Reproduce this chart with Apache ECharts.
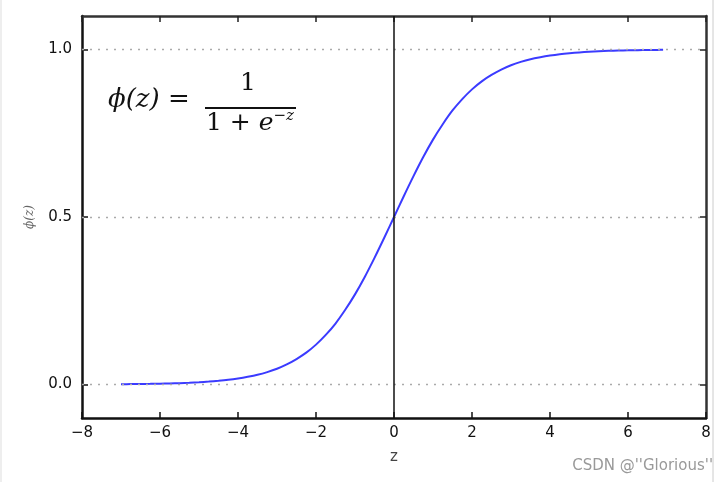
<!DOCTYPE html>
<html>
<head>
<meta charset="utf-8">
<script src="https://cdn.jsdelivr.net/npm/echarts@6/dist/echarts.min.js"></script>
<style>
  html, body { margin: 0; padding: 0; background: #fff; }
  #chart { width: 728px; height: 482px; }
</style>
</head>
<body>
<div id="chart"></div>
<script>
// z values along the curve and the phi(z) values
const zValues = [-7, -6.75, -6.5, -6.25, -6, -5.75, -5.5, -5.25, -5, -4.75, -4.5, -4.25, -4, -3.75,
  -3.5, -3.25, -3, -2.75, -2.5, -2.25, -2, -1.75, -1.5, -1.25, -1, -0.75, -0.5, -0.25,
  0, 0.25, 0.5, 0.75, 1, 1.25, 1.5, 1.75, 2, 2.25, 2.5, 2.75, 3, 3.25, 3.5, 3.75,
  4, 4.25, 4.5, 4.75, 5, 5.25, 5.5, 5.75, 6, 6.25, 6.5, 6.75, 6.9];
const phiValues = [0.0009, 0.0012, 0.0015, 0.0019, 0.0025, 0.0032, 0.0041, 0.0052, 0.0067, 0.0086, 0.011, 0.014, 0.018, 0.023,
  0.029, 0.037, 0.047, 0.060, 0.076, 0.095, 0.119, 0.148, 0.182, 0.223, 0.269, 0.321, 0.378, 0.438,
  0.5, 0.562, 0.622, 0.679, 0.731, 0.777, 0.818, 0.852, 0.881, 0.905, 0.924, 0.940, 0.953, 0.963, 0.971, 0.977,
  0.982, 0.986, 0.989, 0.9914, 0.9933, 0.9948, 0.9959, 0.9968, 0.9975, 0.9981, 0.9985, 0.9988, 0.999];
const xTicks = [-8, -6, -4, -2, 0, 2, 4, 6, 8];
const yTicks = [0, 0.5, 1.0];

const chart = echarts.init(document.getElementById('chart'));

const fmtX = v => (v < 0 ? '\u2212' + Math.abs(v) : String(v));
const tickFont = { fontFamily: 'DejaVu Sans', fontSize: 15, color: '#111' };
const serif = 'DejaVu Serif';

const option = {
  animation: false,
  grid: { left: 82, right: 22, top: 16, bottom: 64 },
  xAxis: [
    {
      type: 'value', min: -8, max: 8, interval: 2,
      name: 'z', nameLocation: 'middle', nameGap: 32,
      nameTextStyle: { fontFamily: 'DejaVu Sans', fontSize: 15, color: '#444' },
      axisLine: { show: true, onZero: false, lineStyle: { color: '#111', width: 2.5 } },
      axisTick: { show: true, inside: true, length: 6, lineStyle: { color: '#111', width: 1.5 } },
      axisLabel: Object.assign({ formatter: fmtX, margin: 8 }, tickFont),
      splitLine: { show: false }
    },
    {
      type: 'value', min: -8, max: 8, interval: 2, position: 'top',
      axisLine: { show: true, onZero: false, lineStyle: { color: '#333', width: 2.5 } },
      axisTick: { show: true, inside: true, length: 6, lineStyle: { color: '#222', width: 1.5 } },
      axisLabel: { show: false },
      splitLine: { show: false }
    }
  ],
  yAxis: [
    {
      type: 'value', min: -0.1, max: 1.1,
      name: '\u03d5(z)', nameLocation: 'middle', nameGap: 46,
      nameTextStyle: { fontFamily: serif, fontStyle: 'italic', fontSize: 12, color: '#666' },
      axisLine: { show: true, onZero: false, lineStyle: { color: '#111', width: 2.5 } },
      axisTick: { show: true, inside: true, length: 6, customValues: yTicks, lineStyle: { color: '#111', width: 1.5 } },
      axisLabel: Object.assign({ customValues: yTicks, formatter: v => v.toFixed(1), margin: 10 }, tickFont),
      splitLine: { show: false }
    },
    {
      type: 'value', min: -0.1, max: 1.1, position: 'right',
      axisLine: { show: true, onZero: false, lineStyle: { color: '#333', width: 2.5 } },
      axisTick: { show: true, inside: true, length: 6, customValues: yTicks, lineStyle: { color: '#222', width: 1.5 } },
      axisLabel: { show: false },
      splitLine: { show: false }
    }
  ],
  series: [
    {
      type: 'line',
      data: zValues.map((z, i) => [z, phiValues[i]]),
      smooth: 0.3,
      showSymbol: false,
      lineStyle: { color: '#3b3bff', width: 2 },
      z: 3,
      markLine: {
        silent: true,
        symbol: 'none',
        label: { show: false },
        data: [
          ...yTicks.map(v => ({ yAxis: v, lineStyle: { color: '#aaa', type: [2, 6], width: 1.3 } })),
          { xAxis: 0, lineStyle: { color: '#111', type: 'solid', width: 1.5 } }
        ]
      }
    }
  ],
  graphic: [
    { type: 'line', shape: { x1: 1, y1: 0, x2: 1, y2: 482 }, style: { stroke: '#ddd', lineWidth: 1 } },
    { type: 'line', shape: { x1: 713, y1: 0, x2: 713, y2: 482 }, style: { stroke: '#ccc', lineWidth: 1 } },
    {
      type: 'text', left: 108, top: 87,
      style: { text: '\u03d5(z) =', fontFamily: serif, fontStyle: 'italic', fontSize: 26, fill: '#111' }
    },
    {
      type: 'text', left: 240, top: 71,
      style: { text: '1', fontFamily: serif, fontSize: 25, fill: '#111' }
    },
    { type: 'line', shape: { x1: 205, y1: 108, x2: 296, y2: 108 }, style: { stroke: '#111', lineWidth: 2 } },
    {
      type: 'text', left: 206, top: 109,
      style: {
        text: '{n|1 + }{e|e}{s|\u2212z}',
        rich: {
          n: { fontFamily: serif, fontSize: 25, fill: '#111' },
          e: { fontFamily: serif, fontStyle: 'italic', fontSize: 25, fill: '#111' },
          s: { fontFamily: serif, fontStyle: 'italic', fontSize: 15, fill: '#111', padding: [0, 0, 14, 0] }
        }
      }
    },
    {
      type: 'text', right: 15, top: 459,
      style: { text: "CSDN @''Glorious''", fontFamily: 'DejaVu Sans', fontSize: 15, fill: '#999' }
    }
  ]
};

chart.setOption(option);
</script>
</body>
</html>
